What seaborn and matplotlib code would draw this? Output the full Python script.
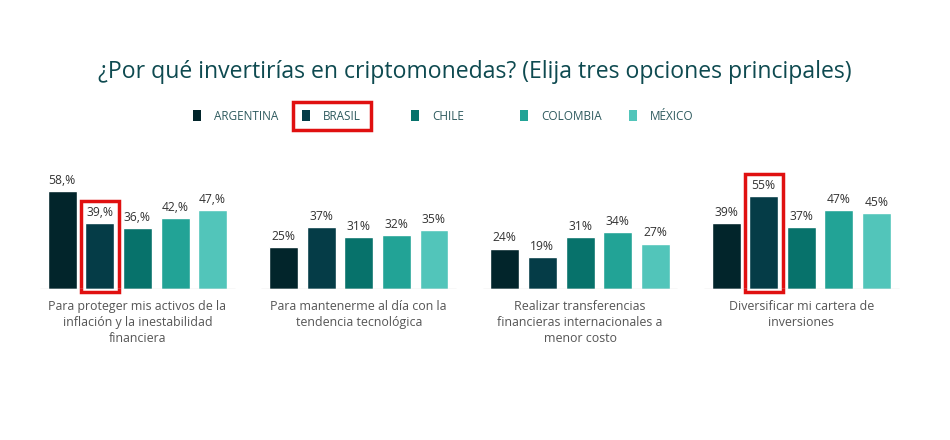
import matplotlib
matplotlib.use("Agg")
import matplotlib.pyplot as plt
from matplotlib.patches import Rectangle
import seaborn as sns
import pandas as pd

# Data
motivos = [
    "Para proteger mis activos de la\ninflación y la inestabilidad\nfinanciera",
    "Para mantenerme al día con la\ntendencia tecnológica",
    "Realizar transferencias\nfinancieras internacionales a\nmenor costo",
    "Diversificar mi cartera de\ninversiones",
]
paises = ["ARGENTINA", "BRASIL", "CHILE", "COLOMBIA", "MÉXICO"]
argentina = [58, 25, 24, 39]
brasil = [39, 37, 19, 55]
chile = [36, 31, 31, 37]
colombia = [42, 32, 34, 47]
mexico = [47, 35, 27, 45]
# labels exactly as printed in the source (first group has a stray comma)
etiquetas = {
    "ARGENTINA": ["58,%", "25%", "24%", "39%"],
    "BRASIL": ["39,%", "37%", "19%", "55%"],
    "CHILE": ["36,%", "31%", "31%", "37%"],
    "COLOMBIA": ["42,%", "32%", "34%", "47%"],
    "MÉXICO": ["47,%", "35%", "27%", "45%"],
}
colores = ["#02252b", "#053c47", "#07726b", "#22a396", "#52c5ba"]

valores = [argentina, brasil, chile, colombia, mexico]
rows = []
for pais, vals in zip(paises, valores):
    for motivo, v in zip(motivos, vals):
        rows.append({"motivo": motivo, "pais": pais, "valor": v})
df = pd.DataFrame(rows)

sns.set_style("white")
plt.rcParams["font.family"] = ["Open Sans", "DejaVu Sans"]

fig = plt.figure(figsize=(9.5, 4.4), dpi=100)
ax = fig.add_axes([0.0282, 0.343, 0.9318, 0.268])

sns.barplot(data=df, x="motivo", y="valor", hue="pais", hue_order=paises,
            palette=colores, width=0.85, gap=0.23, saturation=1,
            legend=False, ax=ax)

for cont, pais in zip(ax.containers, paises):
    ax.bar_label(cont, labels=etiquetas[pais], padding=3, fontsize=8.7,
                 color="#333333")

# light baseline under each group
for i in range(len(motivos)):
    ax.hlines(0, i - 0.44, i + 0.44, color="#dddddd", lw=1)

ax.set_ylim(0, 70)
ax.set_xlim(-0.5, len(motivos) - 0.5)
ax.set_xlabel("")
ax.set_ylabel("")
ax.set_yticks([])
ax.tick_params(axis="x", length=0, pad=8, labelsize=8.9, labelcolor="#555555")
for lbl in ax.get_xticklabels():
    lbl.set_linespacing(1.3)
sns.despine(ax=ax, left=True, bottom=True)

# red highlight boxes around the Brasil bars
bw = ax.containers[1][0].get_width()
for j in [0, 3]:
    p = ax.containers[1][j]
    ax.add_patch(Rectangle((p.get_x() - 0.02, -1.8), bw + 0.042,
                           p.get_height() + 15,
                           fill=False, ec="#e01010", lw=2.5, clip_on=False))

# title
fig.text(0.5, 1 - 72 / 440, "¿Por qué invertirías en criptomonedas? (Elija tres opciones principales)",
         ha="center", va="center", fontsize=16.6, color="#0e4a50")

# legend, evenly spaced like the original
for i, (pais, c) in enumerate(zip(paises, colores)):
    x0 = 193 + 109 * i
    fig.patches.append(Rectangle((x0 / 950, 1 - 121 / 440), 8 / 950, 11 / 440,
                                 transform=fig.transFigure, fc=c, ec="none"))
    fig.text((x0 + 21) / 950, 1 - 116 / 440, pais, ha="left", va="center",
             fontsize=8.5, color="#2e5a5e")
fig.patches.append(Rectangle((293 / 950, 1 - 130 / 440), 78 / 950, 28 / 440,
                             transform=fig.transFigure, fill=False,
                             ec="#e01010", lw=2.5))

fig.savefig("out.png", dpi=100)
